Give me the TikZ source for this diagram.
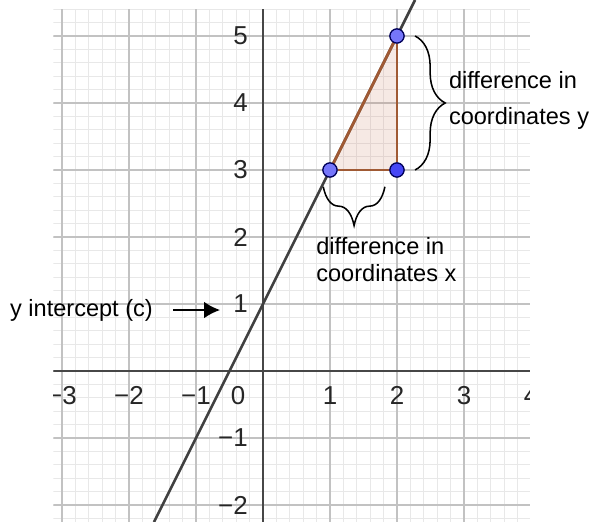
\documentclass[tikz,border=0pt]{standalone}
\usepackage{fontspec}
\setmainfont{Liberation Sans}
\usepackage{xcolor}
\usetikzlibrary{arrows.meta,positioning,decorations.pathreplacing}
\definecolor{segbrown}{RGB}{160,90,52}
\definecolor{trifill}{RGB}{205,120,90}
\definecolor{ptblue}{RGB}{118,118,250}
\definecolor{ptdeep}{RGB}{70,70,245}

\begin{document}
\begin{tikzpicture}[
  minorgrid/.style={draw=black!9, line width=0.4pt},
  majorgrid/.style={draw=black!24, line width=0.6pt},
  axis/.style={draw=black!72, line width=0.85pt},
  fnline/.style={draw=black!75, line width=1.1pt},
  ticklab/.style={font=\fontsize{11}{13}\selectfont, text=black!85, inner sep=0pt},
  note/.style={font=\fontsize{10}{12}\selectfont, align=left, inner sep=0pt},
  pt/.style={circle, draw=black!65!blue, line width=0.5pt, fill=ptblue, minimum size=0.21cm, inner sep=0pt},
  seg/.style={draw=segbrown, line width=1.2pt},
  brc/.style={decorate, decoration={brace, amplitude=#1}, line width=0.65pt},
  arr/.style={-{Latex[length=2.4mm, width=2.5mm]}, line width=0.85pt}
]
\fill[white] (-3.925,-2.254) rectangle (4.881,5.537);
\useasboundingbox (-3.925,-2.254) rectangle (4.881,5.537);
\begin{scope}
  \clip (-3.13,-2.254) rectangle (3.985,5.40);
  \draw[minorgrid, step=0.2] (-3.4,-2.4) grid (4.2,5.6);
  \draw[majorgrid, step=1] (-4,-3) grid (5,6);
  \draw[axis] (-3.2,0) -- (4.1,0);
  \draw[axis] (0,-2.3) -- (0,5.5);
  \foreach \x/\n/\t in {-3/m3/−3, -2/m2/−2, -1/m1/−1, 1/p1/1, 2/p2/2, 3/p3/3, 4/p4/4}
    \node[ticklab] (lx\n) at (\x,-0.36) {\t};
  \node[ticklab] (lzero) at (-0.37,-0.36) {0};
  \foreach \y/\n/\t in {-2/m2/−2, -1/m1/−1, 1/p1/1, 2/p2/2, 3/p3/3, 4/p4/4, 5/p5/5}
    \node[ticklab, anchor=east] (ly\n) at (-0.22,\y) {\t};
\end{scope}
\draw[fnline] (-1.627,-2.254) -- (2.27,5.537);
\fill[trifill, fill opacity=0.16] (1,3) -- (2,5) -- (2,3) -- cycle;
\node[pt] (p13) at (1,3) {};
\node[pt] (p25) at (2,5) {};
\node[pt, fill=ptdeep] (p23) at (2,3) {};
\draw[seg] (p13) -- (p25);
\draw[seg] (p25) -- (p23);
\draw[seg] (p23) -- (p13);
\node[pt] at (p13) {};
\node[pt] at (p25) {};
\node[pt, fill=ptdeep] at (p23) {};
\draw[brc=0.45cm] ([xshift=0.27cm]p25.center) -- ([xshift=0.27cm]p23.center);
\draw[brc=0.58cm] ([shift={(-0.18,-0.25)}]p23.center) -- ([shift={(-0.1,-0.25)}]p13.center);
\node[note, anchor=west, font=\fontsize{10}{15.2}\selectfont] (ydiff) at (2.77,4.04) {difference in\\coordinates y};
\node[note, anchor=north west, font=\fontsize{10}{11.5}\selectfont] (xdiff) at (0.79,2.0) {difference in\\coordinates x};
\node[note, anchor=west] (yint) at (-3.78,0.91) {y intercept (c)};
\coordinate (cint) at (-0.64,0.88);
\draw[arr] ([xshift=0.3cm]yint.east) -- (cint |- yint.east);
\end{tikzpicture}
\end{document}
